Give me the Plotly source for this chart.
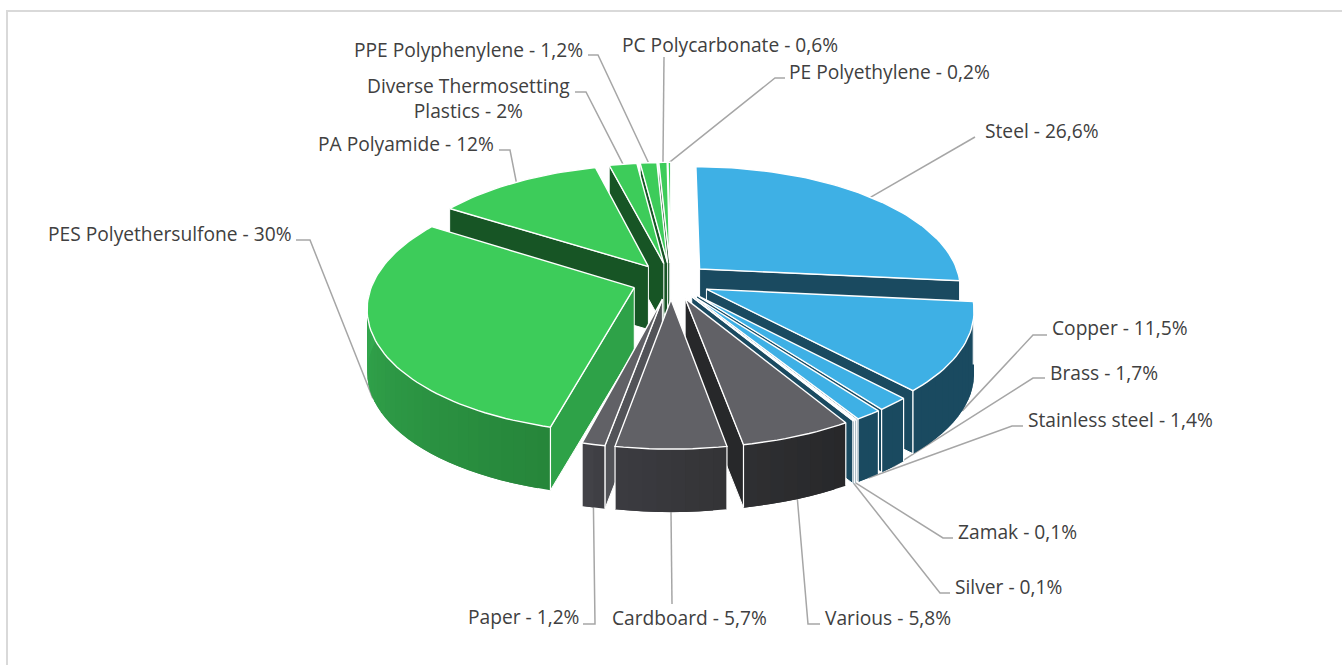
import math
import plotly.graph_objects as go

# ---------- data ----------
materials = ["Steel", "Copper", "Brass", "Stainless steel", "Zamak", "Silver", "Various",
             "Cardboard", "Paper", "PES Polyethersulfone", "PA Polyamide",
             "Diverse Thermosetting<br>Plastics", "PPE Polyphenylene", "PC Polycarbonate", "PE Polyethylene"]
shares = [26.6, 11.5, 1.7, 1.4, 0.1, 0.1, 5.8, 5.7, 1.2, 30, 12, 2, 1.2, 0.6, 0.2]

# ---------- styles per slice ----------
top_colors = ["#3EB0E5"] * 6 + ["#616166"] * 3 + ["#3DCC5A"] * 6
rim_left = ["#1A4A60"] * 6 + ["#2F2F32", "#3C3C41", "#434348", "#38B757", "#38B757", "#38B757", "#38B757", "#38B757", "#38B757"]
rim_right = ["#1A4A60"] * 6 + ["#27282A", "#333336", "#3E3E43", "#26853A", "#26853A", "#26853A", "#26853A", "#26853A", "#26853A"]
wall_colors = ["#1A4A60"] * 6 + ["#27282A", "#27282A", "#525358", "#2EA248", "#175525", "#175525", "#175525", "#175525", "#175525"]

# ---------- camera ----------
CX, CY, A, B, K, H, E = 671, 281, 261, 121, 0.15, 63, 0.15

# ---------- label placement: (x, y, anchor), then leader elbow points ----------
label_pos = [(983, 130, "left"), (1050, 327, "left"), (1048, 372, "left"), (1026, 419, "left"),
             (956, 531, "left"), (953, 586, "left"), (823, 617, "left"), (610, 617, "left"),
             (581, 616, "right"), (294, 233, "right"), (496, 143, "right"), (572, 98, "right"),
             (585, 49, "right"), (620, 44, "left"), (787, 71, "left")]
leader_elbows = [[(975, 137)], [(1047, 335), (1033, 335)], [(1045, 378), (1033, 378)], [(1023, 426), (1012, 426)],
                 [(953, 538), (943, 538)], [(950, 593), (940, 593)], [(820, 624), (808, 624)], [(672, 604)],
                 [(583, 624), (595, 624)], [(296, 240), (310, 240)], [(499, 150), (510, 150)], [(575, 92), (586, 92)],
                 [(588, 55), (598, 55)], [(664, 57)], [(785, 78), (775, 78)]]


def project(u, v, drop=0.0):
    s = 1 / (1 + K * v)
    return CX + A * u * s, CY - B * v * s + drop * H


def fmt(v):
    return f"{v:g}".replace(".", ",")


def mix(c1, c2, t):
    a = [int(c1[i:i + 2], 16) for i in (1, 3, 5)]
    b = [int(c2[i:i + 2], 16) for i in (1, 3, 5)]
    return "#" + "".join(f"{round(p + (q - p) * t):02X}" for p, q in zip(a, b))


def poly(fig, pts, fill, line="rgba(0,0,0,0)", width=0.0):
    fig.add_trace(go.Scatter(
        x=[p[0] for p in pts] + [pts[0][0]], y=[p[1] for p in pts] + [pts[0][1]],
        mode="lines", fill="toself", fillcolor=fill,
        line=dict(color=line, width=width), hoverinfo="skip", showlegend=False))


total = sum(shares)
slices = []
acc = 0.0
for i, val in enumerate(shares):
    t1 = acc / total * 2 * math.pi
    acc += val
    t2 = acc / total * 2 * math.pi
    mid = (t1 + t2) / 2
    slices.append(dict(i=i, t1=t1, t2=t2, mid=mid, ou=E * math.sin(mid), ov=E * math.cos(mid)))

fig = go.Figure()

# leaders first, under the slices
for sl in slices:
    i = sl["i"]
    u = sl["ou"] + math.sin(sl["mid"])
    v = sl["ov"] + math.cos(sl["mid"])
    end = project(u, v, 1.0 if math.cos(sl["mid"]) < 0 else 0.0)
    pts = leader_elbows[i] + [end]
    fig.add_trace(go.Scatter(x=[p[0] for p in pts], y=[p[1] for p in pts], mode="lines",
                             line=dict(color="#A6A6A6", width=1.5), hoverinfo="skip", showlegend=False))

# painter's order, far slices first
for sl in sorted(slices, key=lambda d: -d["ov"] - 0.01 * math.cos(d["mid"])):
    i, t1, t2, ou, ov = sl["i"], sl["t1"], sl["t2"], sl["ou"], sl["ov"]
    top_col, wall = top_colors[i], wall_colors[i]
    apex = (ou, ov)
    a1 = (ou + math.sin(t1), ov + math.cos(t1))
    a2 = (ou + math.sin(t2), ov + math.cos(t2))

    def wall_pts(p, q):
        return [project(*p), project(*q), project(*q, 1.0), project(*p, 1.0)]

    if math.sin(t1) < 0:
        poly(fig, wall_pts(apex, a1), wall, "#FFFFFF", 1.0)
    if math.sin(t2) > 0:
        poly(fig, wall_pts(apex, a2), wall, "#FFFFFF", 1.0)

    # outer rim strips, facing the viewer; each strip overlaps the next to hide seams
    n = max(2, int((t2 - t1) / math.radians(2.5)))
    for j in range(n):
        p = t1 + (t2 - t1) * j / n
        q = t1 + (t2 - t1) * min(n, j + 2) / n
        m = t1 + (t2 - t1) * (j + 0.5) / n
        if math.cos(m) >= 0.03:
            continue
        col = mix(rim_right[i], rim_left[i], (j + 0.5) / n)
        steps = 3
        arc = [(ou + math.sin(p + (q - p) * k / steps), ov + math.cos(p + (q - p) * k / steps)) for k in range(steps + 1)]
        poly(fig, [project(*c) for c in arc] + [project(*c, 1.0) for c in reversed(arc)], col)

    # corner edges of the rim
    for t in (t1, t2):
        if math.cos(t) < 0:
            e = (ou + math.sin(t), ov + math.cos(t))
            pa, pb = project(*e), project(*e, 1.0)
            fig.add_trace(go.Scatter(x=[pa[0], pb[0]], y=[pa[1], pb[1]], mode="lines",
                                     line=dict(color="#FFFFFF", width=1.2), hoverinfo="skip", showlegend=False))

    # top face
    n = max(2, int((t2 - t1) / math.radians(1.5)))
    arc = [project(ou + math.sin(t1 + (t2 - t1) * j / n), ov + math.cos(t1 + (t2 - t1) * j / n)) for j in range(n + 1)]
    poly(fig, [project(*apex)] + arc, top_col, "#FFFFFF", 1.4)

# labels
for name, val, (x, y, anchor) in zip(materials, shares, label_pos):
    fig.add_annotation(x=x, y=y, text=f"{name} - {fmt(val)}%", showarrow=False, xanchor=anchor, yanchor="middle",
                       align="center", font=dict(family="Open Sans", size=19.2, color="#404040"))

fig.update_layout(
    width=1342, height=665, margin=dict(l=0, r=0, t=0, b=0),
    paper_bgcolor="#FFFFFF", plot_bgcolor="#FFFFFF", showlegend=False,
    xaxis=dict(range=[0, 1342], visible=False, fixedrange=True),
    yaxis=dict(range=[665, 0], visible=False, fixedrange=True),
    shapes=[
        dict(type="line", x0=6, x1=1342, y0=11, y1=11, line=dict(color="#D9D9D9", width=2)),
        dict(type="line", x0=7, x1=7, y0=10, y1=665, line=dict(color="#D9D9D9", width=2)),
    ],
)
fig.write_html("out.html", config={"displayModeBar": False},
               post_script="document.body.style.margin='0';document.body.style.overflow='hidden';")
